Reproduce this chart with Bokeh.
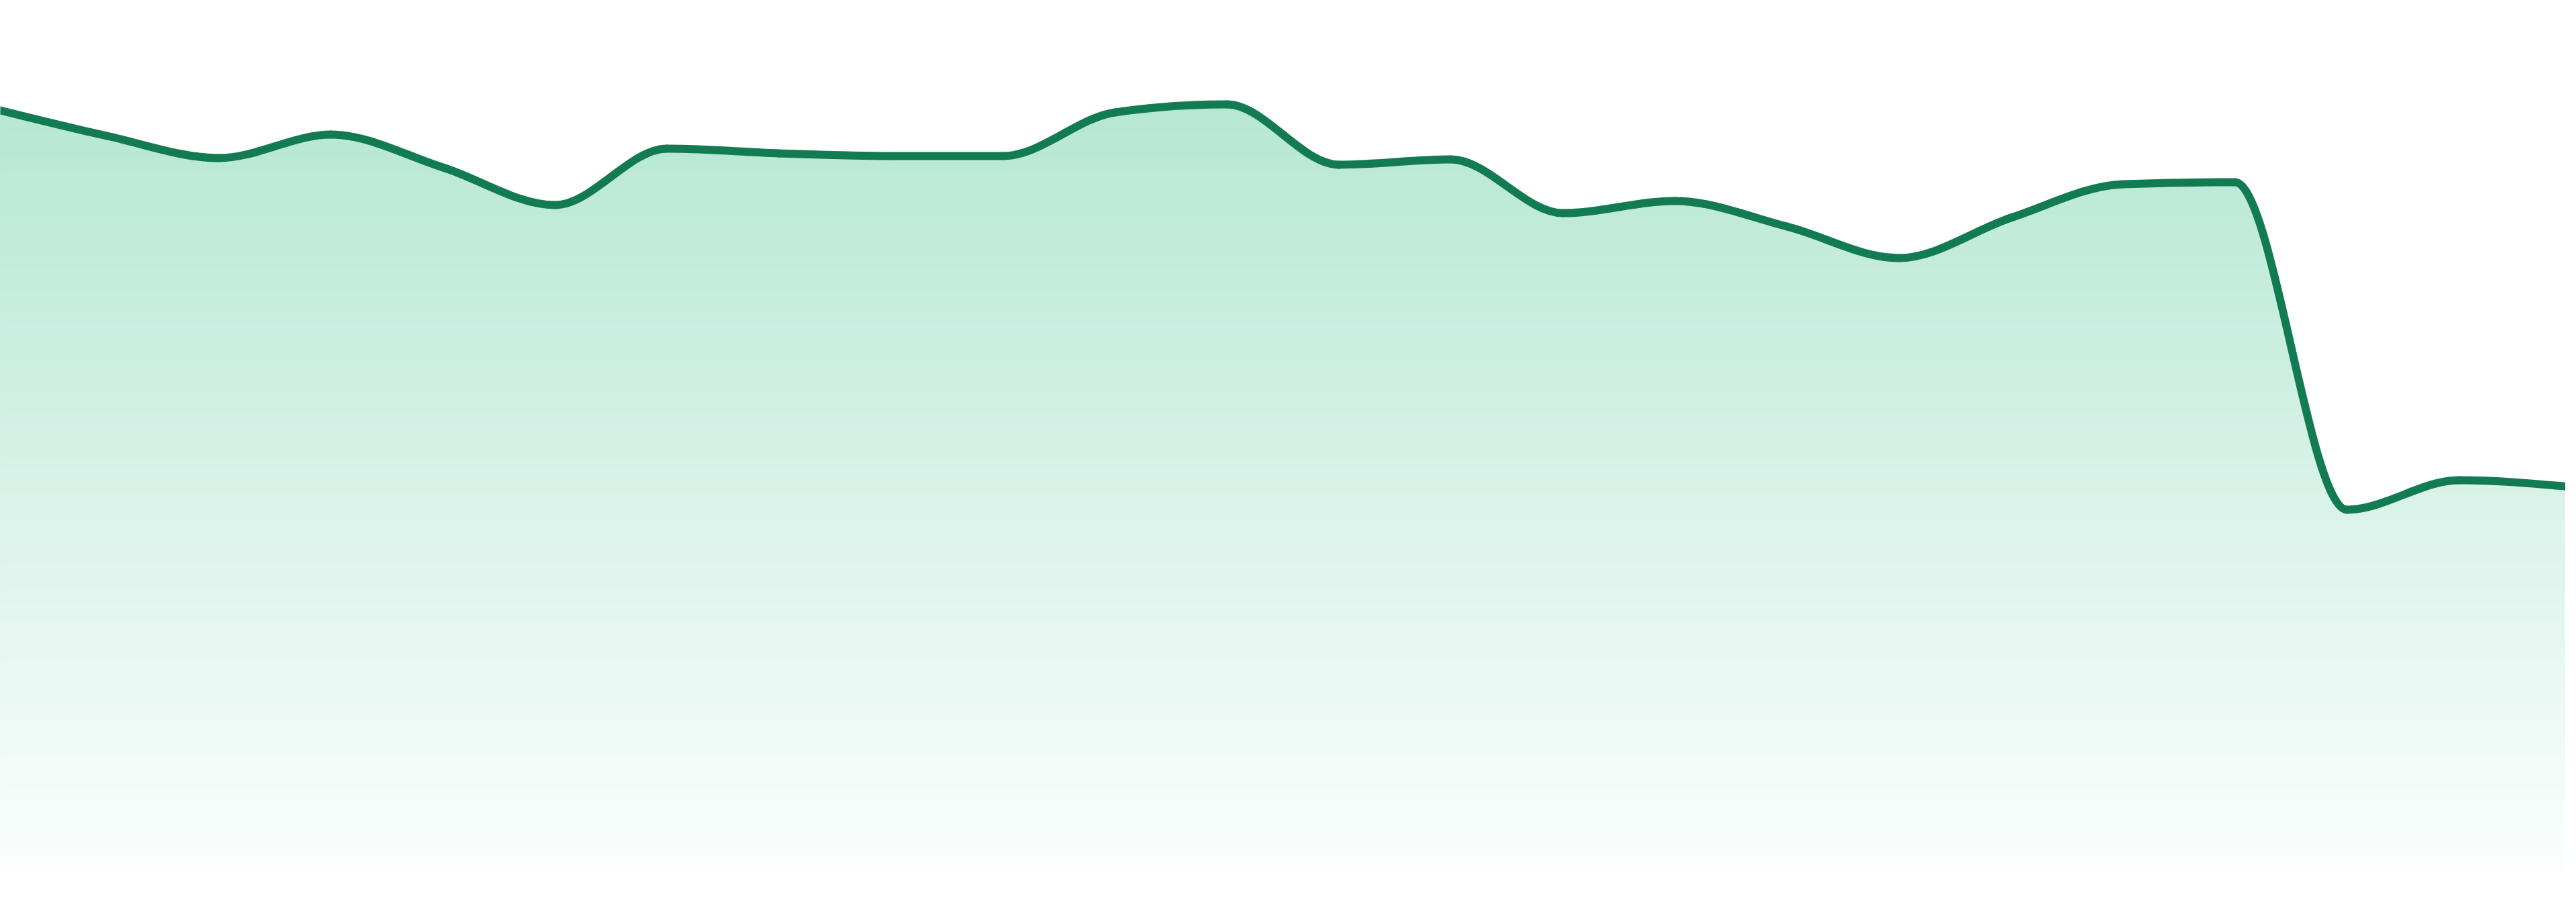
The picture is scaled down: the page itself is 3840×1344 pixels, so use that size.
import numpy as np
from bokeh.plotting import figure
from bokeh.models import Range1d, ColumnDataSource
from bokeh.embed import file_html
from bokeh.resources import INLINE

# ---- data ----
values = [113.5, 109.5, 106.2, 109.7, 104.8, 99.2, 107.6, 106.9, 106.5, 106.5,
          113.0, 114.2, 105.2, 106.0, 98.0, 99.8, 96.0, 91.3, 97.3, 102.3,
          102.6, 53.8, 58.2, 57.2]
positions = list(range(len(values)))

# ---- styles ----
LINE_COLOR = "#137b52"
TOP_RGB = (182, 231, 212)
BOTTOM_RGB = (251, 254, 253)

W, H = 3824, 1328
n = len(values)
xs = np.array(positions, dtype=float)
ys = np.array(values, dtype=float)

# monotone cubic (monotoneX) tangents
sec = np.diff(ys) / np.diff(xs)
tan = np.zeros(n)
for i in range(1, n - 1):
    s0, s1 = sec[i - 1], sec[i]
    h0, h1 = xs[i] - xs[i - 1], xs[i + 1] - xs[i]
    pp = (s0 * h1 + s1 * h0) / (h0 + h1)
    tan[i] = (np.sign(s0) + np.sign(s1)) * min(abs(s0), abs(s1), 0.5 * abs(pp))
tan[0] = (3 * sec[0] - tan[1]) / 2
tan[-1] = (3 * sec[-1] - tan[-2]) / 2

dx = np.diff(xs)
seg = dict(
    x0=xs[:-1], y0=ys[:-1], x1=xs[1:], y1=ys[1:],
    cx0=xs[:-1] + dx / 3, cy0=ys[:-1] + dx * tan[:-1] / 3,
    cx1=xs[1:] - dx / 3, cy1=ys[1:] - dx * tan[1:] / 3,
)

# sampled outline of the same Bezier path, for the filled area
tt = np.linspace(0, 1, 40)
px, py = [], []
for i in range(n - 1):
    a = (1 - tt) ** 3
    b = 3 * (1 - tt) ** 2 * tt
    c = 3 * (1 - tt) * tt ** 2
    d = tt ** 3
    bx = a * seg["x0"][i] + b * seg["cx0"][i] + c * seg["cx1"][i] + d * seg["x1"][i]
    by = a * seg["y0"][i] + b * seg["cy0"][i] + c * seg["cy1"][i] + d * seg["y1"][i]
    if i > 0:
        bx, by = bx[1:], by[1:]
    px.extend(bx)
    py.extend(by)
px = np.array(px)
py = np.array(py)

# pixel geometry of the reference
step_px = 3840 / (n - 1)
x_start = 8 / step_px
x_end = (8 + W) / step_px
y_top = (1305 - 8) / 10.0
y_bot = (1305 - 8 - H) / 10.0

p = figure(width=W, height=H, output_backend="svg", toolbar_location=None,
           x_range=Range1d(x_start, x_end), y_range=Range1d(y_bot, y_top),
           min_border=0)
p.axis.visible = False
p.grid.visible = False
p.outline_line_color = None
p.background_fill_color = "white"
p.border_fill_color = "white"

# vertical gradient fill, approximated by stacked layers
vmax = float(np.max(py))
N = 160
levels = np.linspace(vmax, 0, N + 1)[:-1]
for lv in levels:
    f = 1 - lv / vmax
    r = int(round(TOP_RGB[0] + (BOTTOM_RGB[0] - TOP_RGB[0]) * f))
    g = int(round(TOP_RGB[1] + (BOTTOM_RGB[1] - TOP_RGB[1]) * f))
    b = int(round(TOP_RGB[2] + (BOTTOM_RGB[2] - TOP_RGB[2]) * f))
    col = "#%02x%02x%02x" % (r, g, b)
    p.varea(x=px, y1=np.zeros_like(py), y2=np.minimum(py, lv), fill_color=col)

p.bezier(x0="x0", y0="y0", x1="x1", y1="y1", cx0="cx0", cy0="cy0",
         cx1="cx1", cy1="cy1", source=ColumnDataSource(seg),
         line_color=LINE_COLOR, line_width=12, line_cap="round")

open("out.html", "w").write(file_html(p, INLINE))
